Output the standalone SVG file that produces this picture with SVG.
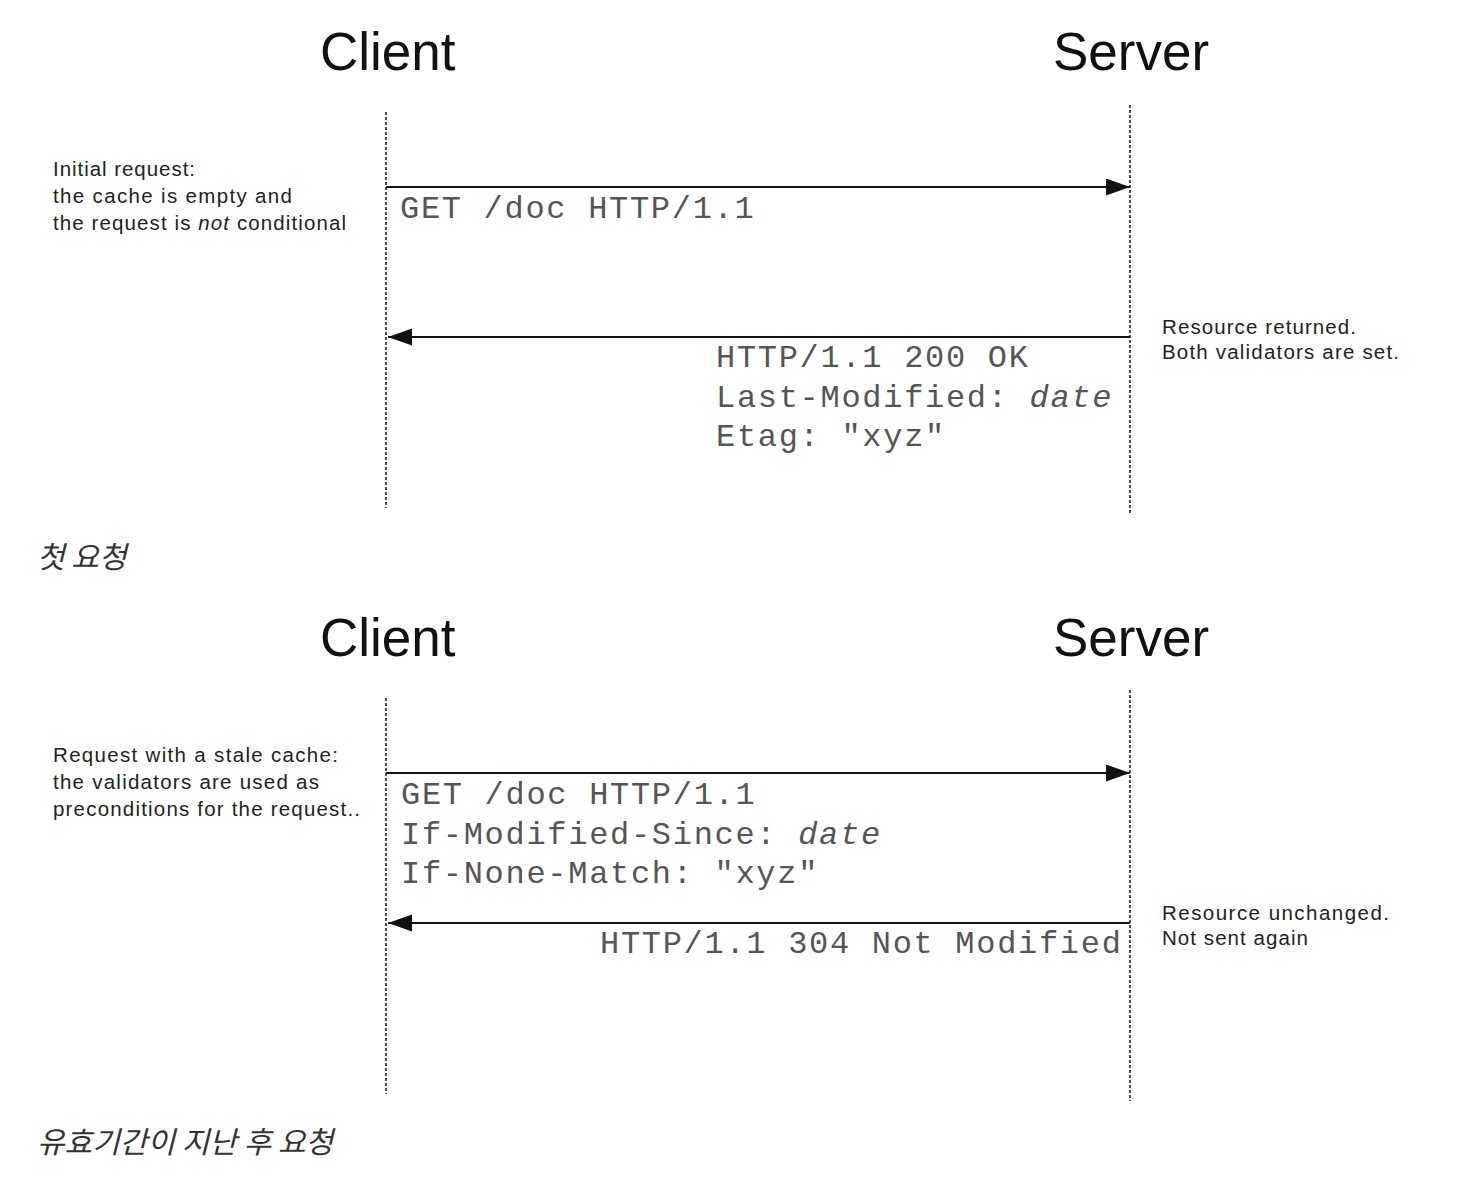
<svg xmlns="http://www.w3.org/2000/svg" width="1480" height="1204" viewBox="0 0 1480 1204">
<defs>
<style>
.title{font-family:"Liberation Sans",Arial,sans-serif;font-size:53px;fill:#111}
.note{font-family:"Liberation Sans",Arial,sans-serif;font-size:20.5px;fill:#222}
.mono{font-family:"Liberation Mono","Courier New",monospace;font-size:32px;letter-spacing:1.7px;fill:#555}
.cap{font-family:"Noto Sans CJK KR","Noto Sans",sans-serif;font-size:30px;font-style:italic;fill:#333}
.life{stroke:#222;stroke-width:1.6;stroke-dasharray:3 2;fill:none}
.msg{stroke:#111;stroke-width:2;fill:none}
</style>
<marker id="ah" markerUnits="userSpaceOnUse" markerWidth="26" markerHeight="18" refX="24" refY="8.5" orient="auto">
<path d="M0,0 L24,8.5 L0,17 Z" fill="#111"/>
</marker>
</defs>
<rect width="1480" height="1204" fill="#fff"/>

<g id="diagram1">
<g id="client1"><text class="title" x="320" y="70">Client</text></g>
<g id="server1"><text class="title" x="1053" y="70">Server</text></g>
<g id="note-initial">
<text class="note" x="53" y="176" textLength="142" lengthAdjust="spacing">Initial request:</text>
<text class="note" x="53" y="203" textLength="239" lengthAdjust="spacing">the cache is empty and</text>
<text class="note" x="53" y="230" textLength="293" lengthAdjust="spacing">the request is <tspan font-style="italic">not</tspan> conditional</text>
</g>
<g id="req1"><text class="mono" x="400" y="218">GET /doc HTTP/1.1</text></g>
<g id="resp1">
<text class="mono" x="716" y="367">HTTP/1.1 200 OK</text>
<text class="mono" x="716" y="407">Last-Modified: <tspan font-style="italic">date</tspan></text>
<text class="mono" x="716" y="446">Etag: "xyz"</text>
</g>
<g id="note-returned">
<text class="note" x="1162" y="334" textLength="194" lengthAdjust="spacing">Resource returned.</text>
<text class="note" x="1162" y="359" textLength="237" lengthAdjust="spacing">Both validators are set.</text>
</g>
<g id="caption1"><text class="cap" x="37" y="568">첫 요청</text></g>
</g>

<g id="diagram2">
<g id="client2"><text class="title" x="320" y="656">Client</text></g>
<g id="server2"><text class="title" x="1053" y="656">Server</text></g>
<g id="note-stale">
<text class="note" x="53" y="762" textLength="285" lengthAdjust="spacing">Request with a stale cache:</text>
<text class="note" x="53" y="789" textLength="266" lengthAdjust="spacing">the validators are used as</text>
<text class="note" x="53" y="816" textLength="307" lengthAdjust="spacing">preconditions for the request..</text>
</g>
<g id="req2">
<text class="mono" x="401" y="804">GET /doc HTTP/1.1</text>
<text class="mono" x="401" y="844">If-Modified-Since: <tspan font-style="italic">date</tspan></text>
<text class="mono" x="401" y="883">If-None-Match: "xyz"</text>
</g>
<g id="resp2"><text class="mono" x="600" y="953">HTTP/1.1 304 Not Modified</text></g>
<g id="note-unchanged">
<text class="note" x="1162" y="920" textLength="227" lengthAdjust="spacing">Resource  unchanged.</text>
<text class="note" x="1162" y="945" textLength="146" lengthAdjust="spacing">Not sent again</text>
</g>
<g id="caption2"><text class="cap" x="37" y="1153">유효기간이 지난 후 요청</text></g>
</g>

<g id="connectors">
<line class="life" x1="386" y1="112" x2="386" y2="508"/>
<line class="life" x1="1130" y1="105" x2="1130" y2="515"/>
<line class="msg" x1="386" y1="187" x2="1130" y2="187" marker-end="url(#ah)"/>
<line class="msg" x1="1130" y1="337" x2="388" y2="337" marker-end="url(#ah)"/>
<line class="life" x1="386" y1="698" x2="386" y2="1094"/>
<line class="life" x1="1130" y1="690" x2="1130" y2="1101"/>
<line class="msg" x1="386" y1="773" x2="1130" y2="773" marker-end="url(#ah)"/>
<line class="msg" x1="1130" y1="923" x2="388" y2="923" marker-end="url(#ah)"/>
</g>
</svg>
